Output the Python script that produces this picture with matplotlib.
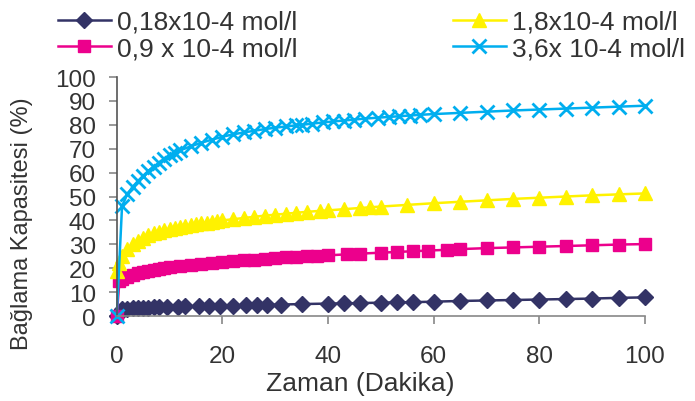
import matplotlib.pyplot as plt

plt.rcParams['font.family'] = ['Liberation Sans', 'DejaVu Sans']

# Data (time in minutes, binding capacity in %)
t_018 = [0, 1, 2, 3, 4, 5, 6, 7, 8, 9.5, 11.5, 13, 15.5, 17.5, 19.5, 22, 24.5,
         26.5, 28.5, 31, 35, 40, 43, 46, 50, 53, 56, 60, 65, 70, 75, 80, 85,
         90, 95, 100]
y_018 = [0, 2.8, 3.0, 3.2, 3.3, 3.4, 3.5, 3.6, 3.7, 3.8, 3.9, 4.0, 4.1, 4.2,
         4.3, 4.4, 4.5, 4.6, 4.7, 4.8, 5.0, 5.2, 5.3, 5.4, 5.6, 5.7, 5.8, 6.0,
         6.3, 6.5, 6.7, 6.9, 7.1, 7.3, 7.6, 7.8]

t_09 = [0, 0.5, 1, 2, 3, 4, 5, 6, 7, 8, 9, 10, 12, 14, 16, 18, 20, 22, 24, 26,
        28, 30, 32, 34, 36, 38, 40, 43.5, 46, 50, 53, 56, 59, 62.5, 65, 70, 75,
        80, 85, 90, 95, 100]
y_09 = [0, 14.5, 15.5, 16.5, 17.3, 18.0, 18.5, 19.0, 19.4, 19.8, 20.1, 20.4,
        20.9, 21.4, 21.8, 22.2, 22.6, 23.0, 23.3, 23.6, 23.9, 24.2, 24.5, 24.8,
        25.0, 25.2, 25.4, 25.8, 26.1, 26.5, 26.8, 27.1, 27.4, 27.7, 28.0, 28.4,
        28.7, 29.0, 29.3, 29.6, 29.9, 30.1]

t_18 = [0, 0.5, 1, 2, 3, 4, 5, 6, 7, 8, 9, 10, 11, 12, 13, 14, 15, 16, 17, 18,
        19, 20, 22, 24, 26, 28, 30, 32, 34, 36, 38.5, 40, 43, 46, 48, 50, 55,
        60, 65, 70, 75, 80, 85, 90, 95, 100]
y_18 = [19, 22, 25, 28, 30, 31.5, 32.8, 33.8, 34.6, 35.3, 35.9, 36.4, 36.9,
        37.3, 37.7, 38.1, 38.5, 38.8, 39.1, 39.4, 39.7, 40.0, 40.5, 41.0, 41.5,
        42.0, 42.4, 42.8, 43.2, 43.6, 44.0, 44.2, 44.7, 45.2, 45.5, 45.8, 46.5,
        47.2, 47.8, 48.4, 49.0, 49.5, 50.0, 50.5, 50.9, 51.3]

t_36 = [0, 1, 2, 3, 4, 5, 6, 7, 8, 9, 10, 11, 12, 14, 16, 18, 20, 22, 24, 26,
        28, 30, 32, 34, 35, 37, 39, 41, 43, 45, 47, 49.5, 51.5, 53.5, 55.5,
        57.5, 60, 65, 70, 75, 80, 85, 90, 95, 100]
y_36 = [0, 46, 51, 54, 56.5, 58.7, 60.8, 62.5, 64.2, 65.8, 67.2, 68.3, 69.3,
        71, 72.5, 73.8, 75, 76, 76.8, 77.5, 78.2, 78.8, 79.3, 79.8, 80.0, 80.5,
        81.0, 81.4, 81.8, 82.2, 82.6, 83.0, 83.3, 83.6, 83.9, 84.2, 84.5, 85.0,
        85.5, 86.0, 86.4, 86.8, 87.2, 87.6, 88.0]

labels = ['0,18x10-4 mol/l', '0,9 x 10-4 mol/l', '1,8x10-4 mol/l', '3,6x 10-4 mol/l']
txt = '#333333'

fig = plt.figure(figsize=(6.95, 4.02), dpi=100)
ax = fig.add_axes([0.168, 0.2114, 0.760, 0.5945])

ax.plot(t_018, y_018, color='#333366', marker='D', markersize=8, lw=1.8, label=labels[0])
ax.plot(t_09, y_09, color='#EC008C', marker='s', markersize=9, lw=1.8, label=labels[1])
ax.plot(t_18, y_18, color='#FFF200', marker='^', markersize=10.5, lw=1.8, label=labels[2])
ax.plot(t_36, y_36, color='#00AEEF', marker='x', markersize=9.5, mew=2, lw=1.8, label=labels[3])

ax.set_xlim(0, 100)
ax.set_ylim(0, 100)
ax.set_xticks(range(0, 101, 20))
ax.set_yticks(range(0, 101, 10))
for s in ['top', 'right']:
    ax.spines[s].set_visible(False)
ax.spines['left'].set_color('#555555')
ax.spines['bottom'].set_color('#888888')
for s in ['left', 'bottom']:
    ax.spines[s].set_linewidth(1.2)
ax.tick_params(direction='out', length=5.5, width=1.2, color='#888888',
               labelsize=17.5, labelcolor=txt)
ax.tick_params(axis='x', pad=15.5)
ax.tick_params(axis='y', pad=9.5)
for ln in ax.lines:
    ln.set_clip_on(False)

fig.text(0.518, 0.045, 'Zaman (Dakika)', fontsize=19, color=txt,
         ha='center', va='center')
fig.text(0.032, 0.443, 'Bağlama Kapasitesi (%)', fontsize=17, color=txt,
         ha='center', va='center', rotation=90)

fig.legend(loc='upper left', bbox_to_anchor=(0.0835, 0.973), ncol=2, frameon=False,
           fontsize=19, handlelength=2.0, handletextpad=0.23, columnspacing=5.9,
           labelspacing=0.1, borderpad=0, borderaxespad=0, labelcolor=txt)

fig.savefig('out.png', dpi=100)
